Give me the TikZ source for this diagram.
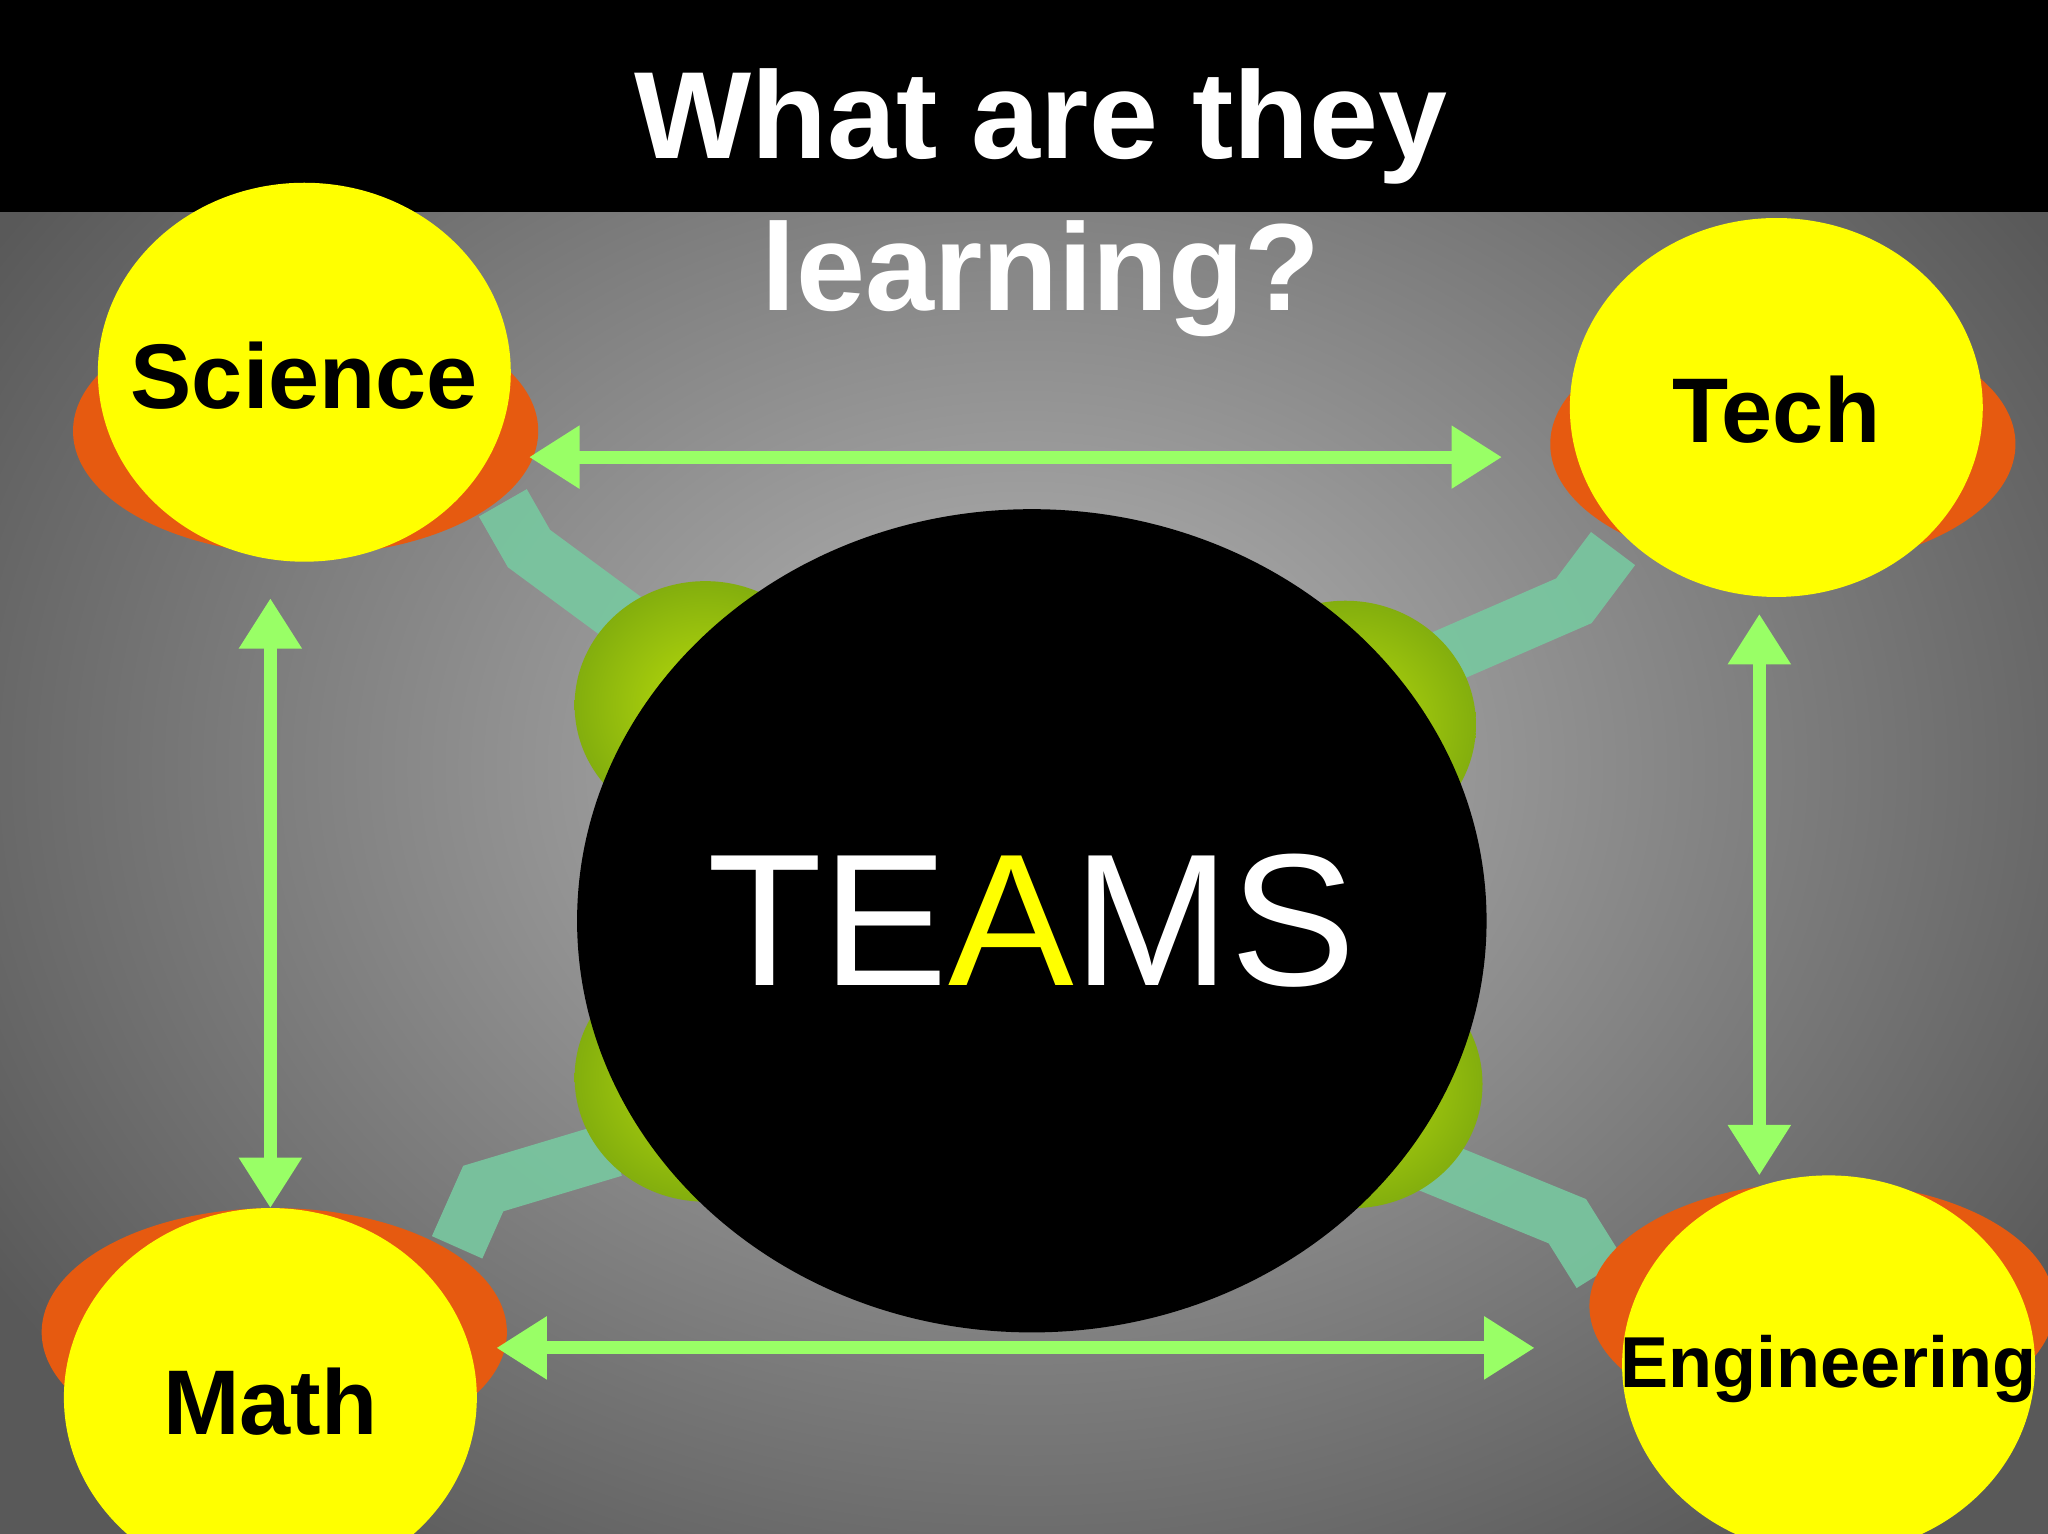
\documentclass[tikz,border=0pt]{standalone}
\usepackage{fontspec}
\setmainfont{Liberation Sans}
\usetikzlibrary{arrows.meta,shapes.geometric}
\definecolor{yel}{HTML}{FFFF00}
\definecolor{org}{HTML}{E65A10}
\definecolor{grn}{HTML}{99FF66}
\definecolor{lime}{HTML}{9ACD10}
\definecolor{teal}{HTML}{78C8A0}
\tikzset{
  subj/.style={ellipse,fill=yel,minimum width=316\unitx,minimum height=290\unitx,inner sep=0pt},
  lbl/.style={font=\bfseries\fontsize{20}{20}\selectfont,text=black},
  back/.style={ellipse,fill=org,minimum width=356\unitx,minimum height=190\unitx},
  blob/.style={ellipse,inner color=lime!70!yellow,outer color=lime!85!black,minimum width=200\unitx,minimum height=190\unitx},
  link/.style={grn,line width=2.85pt,{Triangle[length=11pt,width=13pt]}-{Triangle[length=11pt,width=13pt]}},
  band/.style={teal,opacity=0.9,line width=12pt},
}
\newcommand{\unitx}{*0.2845pt}
\begin{document}
\begin{tikzpicture}[x=0.01cm,y=-0.01cm]
\useasboundingbox (0,0) rectangle (1568,1174);
\shade[inner color=gray!55,outer color=black!65] (-150,-150) rectangle (1718,1324);
\fill[black] (0,0) rectangle (1568,162);
\node[font=\bfseries\fontsize{27}{33}\selectfont,text=white,align=center] (title) at (797,155) {What are they\\learning?};
% bands
\draw[band] (385,385) -- (405,420) -- (500,490);
\draw[band] (1235,420) -- (1205,460) -- (1090,510);
\draw[band] (350,955) -- (370,910) -- (470,880);
\draw[band] (1225,975) -- (1200,935) -- (1090,890);
% blobs
\node[blob] (b1) at (540,540) {};
\node[blob] (b2) at (1030,555) {};
\node[blob] (b3) at (540,825) {};
\node[blob] (b4) at (1035,830) {};
% subject circles
\node[back] (sb) at (234,330) {};
\node[subj] (sci) at (233,285) {};
\node[lbl] (scil) at (233,288) {Science};
\node[back] (tb) at (1365,340) {};
\node[subj] (tech) at (1360,312) {};
\node[lbl] (techl) at (1360,314) {Tech};
\node[back] (mb) at (210,1020) {};
\node[subj] (math) at (207,1070) {};
\node[lbl] (mathl) at (207,1073) {Math};
\node[back] (eb) at (1395,1000) {};
\node[subj] (eng) at (1400,1045) {};
\node[lbl,font=\bfseries\fontsize{15.7}{16}\selectfont] (engl) at (1400,1048) {Engineering};
% center
\node[ellipse,fill=black,minimum width=696\unitx,minimum height=630\unitx] (teams) at (790,705) {};
\node[text=white,font=\fontsize{41}{41}\selectfont] (tl) at (790,705) {TE\textcolor{yel}{A}MS};
% arrows
\coordinate (a1) at (405,350); \coordinate (a2) at (1150,350);
\coordinate (a3) at (380,1032); \coordinate (a4) at (1175,1032);
\coordinate (a5) at (207,458); \coordinate (a6) at (207,925);
\coordinate (a7) at (1347,470); \coordinate (a8) at (1347,900);
\draw[link] (a1) -- (a2);
\draw[link] (a3) -- (a4);
\draw[link] (a5) -- (a6);
\draw[link] (a7) -- (a8);
\end{tikzpicture}
\end{document}
